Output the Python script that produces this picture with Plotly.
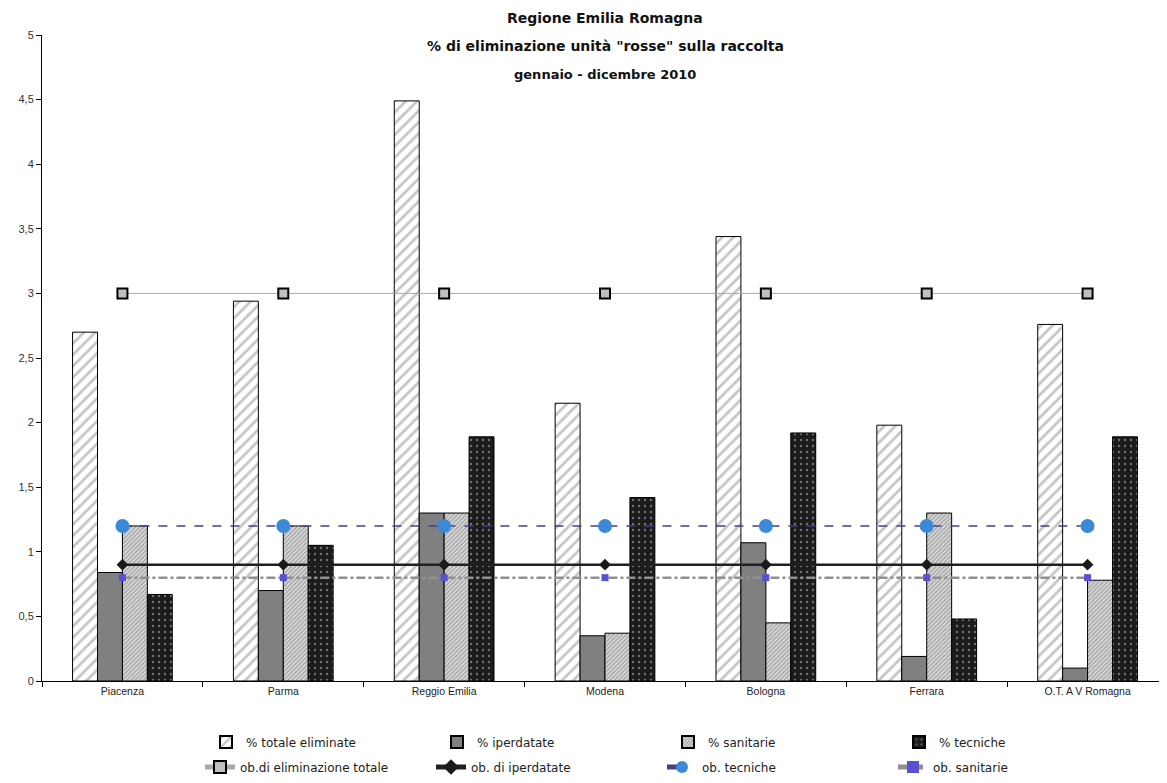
import plotly.graph_objects as go

# categories (AUSL) and values, % of red units eliminated
areas = ["Piacenza", "Parma", "Reggio Emilia", "Modena", "Bologna", "Ferrara", "O.T. A V Romagna"]
totale = [2.70, 2.94, 4.49, 2.15, 3.44, 1.98, 2.76]
iperdatate = [0.84, 0.70, 1.30, 0.35, 1.07, 0.19, 0.10]
sanitarie = [1.20, 1.20, 1.30, 0.37, 0.45, 1.30, 0.78]
tecniche = [0.67, 1.05, 1.89, 1.42, 1.92, 0.48, 1.89]

# objectives (same for every area)
ob_totale = [3.0] * 7
ob_iperdatate = [0.9] * 7
ob_tecniche = [1.2] * 7
ob_sanitarie = [0.8] * 7

y_ticks = [0, 0.5, 1, 1.5, 2, 2.5, 3, 3.5, 4, 4.5, 5]

LEG_FONT = "DejaVu Sans"
AX_FONT = "Liberation Sans"

fig = go.Figure()

fig.add_trace(go.Bar(
    x=areas, y=totale, name="% totale eliminate",
    marker=dict(color="white", line=dict(color="black", width=1),
                pattern=dict(shape="/", fgcolor="#8c8c8c", bgcolor="white", size=8, solidity=0.35)),
))
fig.add_trace(go.Bar(
    x=areas, y=iperdatate, name="% iperdatate",
    marker=dict(color="#808080", line=dict(color="black", width=1)),
))
fig.add_trace(go.Bar(
    x=areas, y=sanitarie, name="% sanitarie",
    marker=dict(color="#dcdcdc", line=dict(color="black", width=1),
                pattern=dict(shape="/", fgcolor="#666666", bgcolor="#dcdcdc", size=3, solidity=0.45)),
))
fig.add_trace(go.Bar(
    x=areas, y=tecniche, name="% tecniche",
    marker=dict(color="#1c1c1c", line=dict(color="black", width=1),
                pattern=dict(shape=".", fgcolor="#c8c8c8", bgcolor="#1c1c1c", size=6, solidity=0.12)),
))

fig.add_trace(go.Scatter(
    x=areas, y=ob_totale, name="ob.di eliminazione totale", legend="legend2",
    mode="lines+markers",
    line=dict(color="#a8a8a8", width=1),
    marker=dict(symbol="square", size=10, color="#c0c0c0", line=dict(color="black", width=2)),
))
fig.add_trace(go.Scatter(
    x=areas, y=ob_iperdatate, name="ob. di iperdatate", legend="legend2",
    mode="lines+markers",
    line=dict(color="#202020", width=2.5),
    marker=dict(symbol="diamond", size=9, color="#1a1a1a"),
))
fig.add_trace(go.Scatter(
    x=areas, y=ob_tecniche, name="ob. tecniche", legend="legend2",
    mode="lines+markers",
    line=dict(color="#4a3d8a", width=1.5, dash="dash"),
    marker=dict(symbol="circle", size=14, color="#3b8ad8"),
))
fig.add_trace(go.Scatter(
    x=areas, y=ob_sanitarie, name="ob. sanitarie", legend="legend2",
    mode="lines+markers",
    line=dict(color="#909090", width=2.5, dash="dashdot"),
    marker=dict(symbol="square", size=7, color="#5a4fcf"),
))

leg_common = dict(orientation="h", xref="container", yref="container",
                  xanchor="left", yanchor="middle",
                  entrywidth=186, entrywidthmode="pixels",
                  itemsizing="constant", bgcolor="rgba(0,0,0,0)",
                  font=dict(family=LEG_FONT, size=12, color="#222"))

fig.update_layout(
    width=1167, height=783,
    margin=dict(l=34, r=7, t=27, b=110, autoexpand=False),
    plot_bgcolor="white", paper_bgcolor="white",
    barmode="group", bargap=0.38, bargroupgap=0,
    separators=",.",
    showlegend=True,
    legend=dict(leg_common, x=198 / 1167, y=(783 - 734) / 783),
    legend2=dict(leg_common, x=192 / 1167, y=(783 - 759) / 783),
)

fig.update_xaxes(
    showline=True, linecolor="black", linewidth=1,
    ticks="outside", ticklen=5, tickson="boundaries", tickcolor="black",
    tickfont=dict(family=AX_FONT, size=10.5, color="#222"),
    showgrid=False,
)
fig.update_yaxes(
    range=[0, 5], tickvals=y_ticks,
    showline=True, linecolor="black", linewidth=1,
    ticks="outside", ticklen=5, tickcolor="black",
    tickfont=dict(family=AX_FONT, size=11, color="#333"),
    showgrid=False, zeroline=False,
)

title_lines = ["Regione Emilia Romagna",
               "% di eliminazione unità \"rosse\" sulla raccolta",
               "gennaio - dicembre 2010"]
title_y = [18, 46, 74]
title_size = [14, 14, 13]
for txt, py, sz in zip(title_lines, title_y, title_size):
    fig.add_annotation(
        text="<b>" + txt + "</b>", xref="paper", yref="paper",
        x=0.5, y=(681 - py) / 646, xanchor="center", yanchor="middle",
        showarrow=False, font=dict(family=LEG_FONT, size=sz, color="#111"),
    )

fig.write_html("out.html")
